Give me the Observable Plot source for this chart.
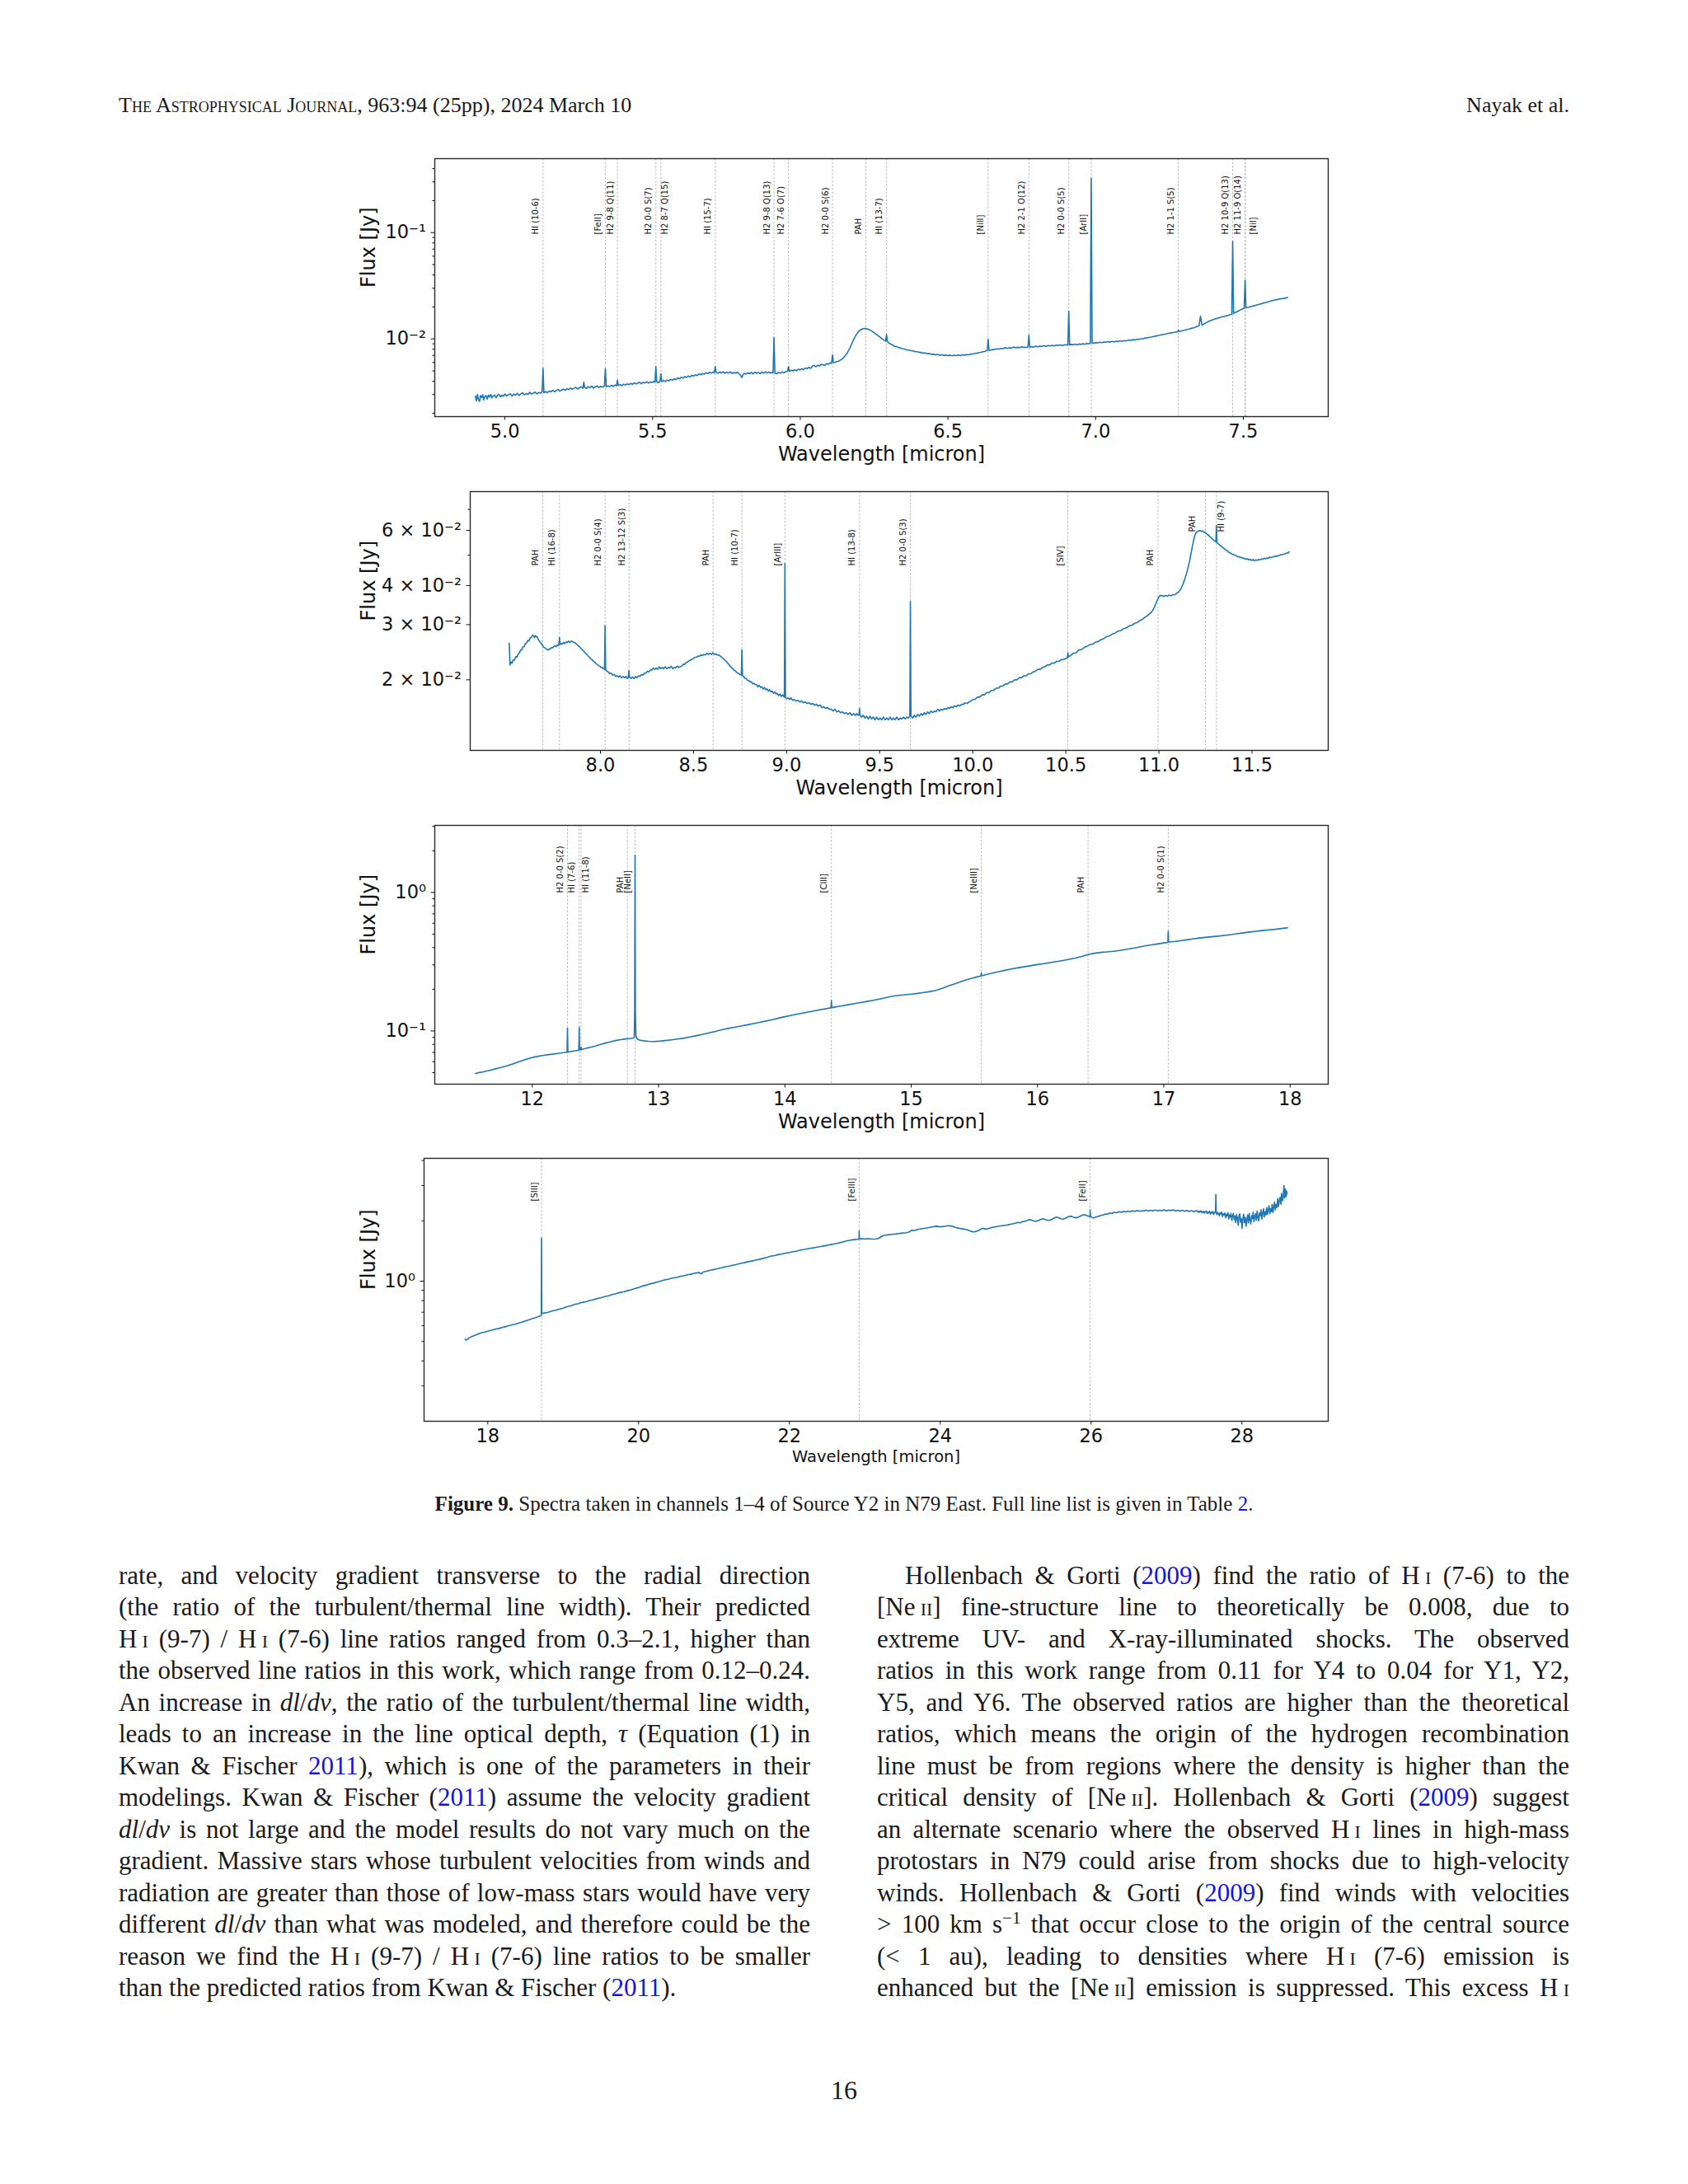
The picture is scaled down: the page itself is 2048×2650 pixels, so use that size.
<!DOCTYPE html>
<html><head><meta charset="utf-8">
<script src="https://cdn.jsdelivr.net/npm/d3@7"></script>
<script src="https://cdn.jsdelivr.net/npm/@observablehq/plot@0.6"></script>
<style>
html,body{margin:0;padding:0;background:#fff;}
#page{position:relative;width:2048px;height:2650px;overflow:hidden;background:#fff;font-family:'Liberation Serif','Times New Roman',serif;color:#1a1a1a;}
.abs{position:absolute;white-space:nowrap;}
.sc{font-variant:small-caps;}
.ln{position:absolute;white-space:nowrap;font-size:31px;line-height:38.5px;height:38.5px;}
.lk{color:#1414e6;}
sup{font-size:0.68em;vertical-align:0.5em;line-height:0;}
svg.panel{position:absolute;left:0;}
</style></head><body><div id="page"></div>
<script>
// ---------------- DATA ----------------
// Channel 1 spectrum: [wavelength micron, flux Jy]
const ch1 = [
[4.900,0.00290],[4.903,0.00262],[4.907,0.00300],[4.910,0.00271],[4.914,0.00258],[4.917,0.00293],[4.921,0.00281],[4.925,0.00299],[4.928,0.00266],[4.932,0.00287],[4.936,0.00293],[4.940,0.00272],[4.944,0.00296],[4.948,0.00284],[4.952,0.00301],[4.956,0.00279],[4.960,0.00290],[4.965,0.00297],[4.970,0.00280],[4.975,0.00294],[4.980,0.00300],[4.985,0.00286],[4.990,0.00296],[4.995,0.00289],[5.000,0.00303],[5.006,0.00291],[5.012,0.00299],[5.018,0.00305],[5.024,0.00290],[5.030,0.00302],[5.036,0.00296],[5.042,0.00308],[5.048,0.00293],[5.054,0.00304],[5.060,0.00311],[5.066,0.00298],[5.072,0.00306],[5.078,0.00301],[5.084,0.00314],[5.090,0.00303],[5.096,0.00309],[5.102,0.00316],[5.108,0.00304],[5.114,0.00313],[5.120,0.00309],[5.126,0.00317],[5.129,0.00530],[5.132,0.00312],[5.138,0.00320],[5.144,0.00312],[5.150,0.00323],[5.156,0.00318],[5.162,0.00329],[5.168,0.00319],[5.174,0.00327],[5.180,0.00334],[5.186,0.00322],[5.192,0.00331],[5.198,0.00337],[5.204,0.00328],[5.210,0.00340],[5.216,0.00333],[5.222,0.00345],[5.228,0.00336],[5.234,0.00343],[5.240,0.00350],[5.246,0.00338],[5.252,0.00347],[5.258,0.00355],[5.264,0.00343],[5.267,0.00392],[5.270,0.00350],[5.276,0.00342],[5.282,0.00356],[5.288,0.00348],[5.294,0.00359],[5.300,0.00345],[5.306,0.00355],[5.312,0.00361],[5.318,0.00349],[5.324,0.00358],[5.330,0.00352],[5.337,0.00362],[5.340,0.00525],[5.343,0.00354],[5.349,0.00362],[5.355,0.00357],[5.361,0.00366],[5.367,0.00358],[5.373,0.00369],[5.378,0.00362],[5.381,0.00410],[5.384,0.00366],[5.390,0.00372],[5.396,0.00363],[5.402,0.00375],[5.408,0.00369],[5.414,0.00378],[5.420,0.00371],[5.426,0.00382],[5.432,0.00374],[5.438,0.00386],[5.444,0.00377],[5.450,0.00384],[5.456,0.00391],[5.462,0.00379],[5.468,0.00390],[5.474,0.00385],[5.480,0.00396],[5.486,0.00384],[5.492,0.00394],[5.498,0.00389],[5.504,0.00399],[5.508,0.00390],[5.511,0.00550],[5.514,0.00396],[5.519,0.00388],[5.525,0.00398],[5.528,0.00470],[5.531,0.00397],[5.537,0.00407],[5.543,0.00398],[5.549,0.00410],[5.555,0.00403],[5.561,0.00416],[5.567,0.00409],[5.573,0.00422],[5.579,0.00414],[5.585,0.00430],[5.591,0.00421],[5.597,0.00435],[5.603,0.00428],[5.609,0.00442],[5.615,0.00434],[5.621,0.00448],[5.627,0.00439],[5.633,0.00455],[5.639,0.00447],[5.645,0.00459],[5.651,0.00452],[5.657,0.00468],[5.663,0.00460],[5.669,0.00472],[5.675,0.00466],[5.681,0.00481],[5.687,0.00472],[5.693,0.00485],[5.699,0.00476],[5.705,0.00488],[5.709,0.00480],[5.712,0.00550],[5.715,0.00484],[5.721,0.00476],[5.727,0.00489],[5.733,0.00479],[5.739,0.00491],[5.745,0.00475],[5.751,0.00486],[5.757,0.00478],[5.763,0.00490],[5.769,0.00472],[5.775,0.00484],[5.781,0.00476],[5.787,0.00487],[5.793,0.00468],[5.798,0.00455],[5.802,0.00432],[5.806,0.00460],[5.810,0.00474],[5.816,0.00466],[5.822,0.00481],[5.828,0.00470],[5.834,0.00484],[5.840,0.00468],[5.846,0.00486],[5.852,0.00474],[5.858,0.00483],[5.864,0.00471],[5.870,0.00488],[5.876,0.00476],[5.882,0.00490],[5.888,0.00478],[5.894,0.00487],[5.900,0.00476],[5.905,0.00484],[5.908,0.00481],[5.911,0.01030],[5.914,0.00478],[5.920,0.00470],[5.926,0.00484],[5.932,0.00476],[5.938,0.00489],[5.944,0.00480],[5.950,0.00492],[5.957,0.00496],[5.960,0.00550],[5.963,0.00494],[5.969,0.00508],[5.975,0.00500],[5.981,0.00512],[5.987,0.00502],[5.993,0.00519],[5.999,0.00512],[6.005,0.00524],[6.011,0.00514],[6.017,0.00532],[6.023,0.00525],[6.029,0.00540],[6.035,0.00529],[6.041,0.00555],[6.047,0.00562],[6.053,0.00548],[6.059,0.00566],[6.065,0.00556],[6.071,0.00578],[6.077,0.00570],[6.083,0.00562],[6.089,0.00584],[6.095,0.00578],[6.101,0.00594],[6.106,0.00592],[6.109,0.00707],[6.112,0.00600],[6.118,0.00603],[6.124,0.00612],[6.130,0.00618],[6.136,0.00632],[6.142,0.00648],[6.148,0.00672],[6.154,0.00706],[6.160,0.00745],[6.166,0.00800],[6.172,0.00870],[6.178,0.00950],[6.184,0.01030],[6.190,0.01100],[6.196,0.01160],[6.202,0.01205],[6.208,0.01232],[6.214,0.01250],[6.220,0.01256],[6.226,0.01244],[6.232,0.01228],[6.238,0.01204],[6.244,0.01176],[6.250,0.01146],[6.256,0.01112],[6.262,0.01080],[6.268,0.01046],[6.274,0.01016],[6.280,0.00988],[6.286,0.00966],[6.289,0.00955],[6.292,0.01100],[6.295,0.00940],[6.301,0.00912],[6.307,0.00890],[6.314,0.00870],[6.320,0.00852],[6.327,0.00846],[6.333,0.00828],[6.340,0.00820],[6.346,0.00808],[6.353,0.00803],[6.360,0.00790],[6.367,0.00786],[6.374,0.00775],[6.381,0.00772],[6.388,0.00760],[6.395,0.00757],[6.402,0.00749],[6.409,0.00746],[6.416,0.00736],[6.423,0.00738],[6.430,0.00726],[6.437,0.00728],[6.444,0.00716],[6.451,0.00720],[6.458,0.00709],[6.465,0.00714],[6.472,0.00702],[6.479,0.00710],[6.486,0.00698],[6.493,0.00707],[6.500,0.00695],[6.507,0.00704],[6.514,0.00694],[6.521,0.00703],[6.528,0.00696],[6.535,0.00705],[6.542,0.00697],[6.549,0.00708],[6.556,0.00704],[6.563,0.00713],[6.570,0.00708],[6.577,0.00720],[6.584,0.00721],[6.591,0.00731],[6.598,0.00733],[6.605,0.00744],[6.612,0.00748],[6.618,0.00759],[6.624,0.00762],[6.629,0.00772],[6.633,0.00778],[6.636,0.00990],[6.639,0.00780],[6.645,0.00786],[6.652,0.00794],[6.659,0.00797],[6.666,0.00806],[6.673,0.00802],[6.680,0.00814],[6.687,0.00810],[6.694,0.00828],[6.701,0.00815],[6.708,0.00826],[6.715,0.00820],[6.722,0.00838],[6.729,0.00825],[6.736,0.00834],[6.743,0.00828],[6.750,0.00845],[6.756,0.00831],[6.762,0.00836],[6.767,0.00830],[6.771,0.00842],[6.774,0.01080],[6.777,0.00838],[6.784,0.00846],[6.790,0.00840],[6.797,0.00853],[6.804,0.00843],[6.811,0.00856],[6.818,0.00852],[6.825,0.00862],[6.832,0.00852],[6.839,0.00866],[6.846,0.00860],[6.853,0.00872],[6.860,0.00860],[6.867,0.00874],[6.874,0.00868],[6.881,0.00880],[6.888,0.00866],[6.894,0.00878],[6.900,0.00883],[6.906,0.00873],[6.909,0.01820],[6.912,0.00878],[6.918,0.00888],[6.925,0.00882],[6.931,0.00893],[6.938,0.00879],[6.944,0.00896],[6.951,0.00889],[6.957,0.00900],[6.964,0.00891],[6.970,0.00906],[6.976,0.00901],[6.982,0.00908],[6.985,0.32500],[6.988,0.00915],[6.994,0.00912],[7.000,0.00924],[7.007,0.00918],[7.014,0.00930],[7.021,0.00922],[7.028,0.00936],[7.035,0.00930],[7.042,0.00942],[7.049,0.00933],[7.056,0.00948],[7.063,0.00940],[7.070,0.00953],[7.077,0.00946],[7.084,0.00960],[7.091,0.00952],[7.098,0.00966],[7.105,0.00960],[7.112,0.00976],[7.119,0.00970],[7.126,0.00984],[7.133,0.00978],[7.140,0.00994],[7.147,0.00990],[7.154,0.01004],[7.161,0.01004],[7.168,0.01020],[7.175,0.01022],[7.182,0.01036],[7.189,0.01040],[7.196,0.01056],[7.203,0.01062],[7.210,0.01074],[7.217,0.01082],[7.224,0.01096],[7.231,0.01104],[7.238,0.01114],[7.245,0.01126],[7.252,0.01136],[7.259,0.01144],[7.266,0.01152],[7.272,0.01160],[7.277,0.01164],[7.280,0.01210],[7.283,0.01172],[7.289,0.01186],[7.296,0.01200],[7.303,0.01210],[7.310,0.01226],[7.317,0.01240],[7.324,0.01258],[7.331,0.01272],[7.338,0.01290],[7.344,0.01310],[7.350,0.01330],[7.355,0.01640],[7.360,0.01350],[7.367,0.01386],[7.374,0.01420],[7.381,0.01452],[7.388,0.01482],[7.395,0.01508],[7.402,0.01534],[7.409,0.01556],[7.416,0.01578],[7.423,0.01598],[7.430,0.01618],[7.437,0.01636],[7.444,0.01652],[7.450,0.01670],[7.456,0.01690],[7.461,0.01708],[7.464,0.08260],[7.467,0.01740],[7.472,0.01770],[7.478,0.01802],[7.484,0.01836],[7.490,0.01872],[7.495,0.01902],[7.500,0.01926],[7.503,0.01940],[7.506,0.03570],[7.509,0.01962],[7.514,0.01976],[7.521,0.02000],[7.528,0.02022],[7.535,0.02046],[7.542,0.02070],[7.549,0.02096],[7.556,0.02124],[7.563,0.02150],[7.570,0.02180],[7.577,0.02206],[7.584,0.02234],[7.591,0.02262],[7.598,0.02290],[7.605,0.02314],[7.612,0.02340],[7.619,0.02362],[7.626,0.02382],[7.633,0.02398],[7.640,0.02414],[7.645,0.02436],[7.650,0.02450]
];
// Channel 2 spectrum
const ch2 = [
[7.510,0.0262],[7.514,0.0223],[7.520,0.0228],[7.525,0.0226],[7.532,0.0232],[7.538,0.0231],[7.545,0.0237],[7.551,0.0236],[7.558,0.0242],[7.564,0.0243],[7.571,0.0249],[7.577,0.0249],[7.584,0.0255],[7.590,0.0255],[7.597,0.0261],[7.603,0.0262],[7.610,0.0267],[7.616,0.0266],[7.623,0.0272],[7.629,0.0273],[7.635,0.0278],[7.640,0.0276],[7.645,0.0273],[7.650,0.0277],[7.655,0.0274],[7.660,0.0275],[7.666,0.0269],[7.672,0.0266],[7.678,0.0263],[7.684,0.0260],[7.690,0.0257],[7.696,0.0254],[7.702,0.0253],[7.708,0.0251],[7.714,0.0250],[7.720,0.0249],[7.726,0.0251],[7.732,0.0251],[7.738,0.0254],[7.744,0.0253],[7.750,0.0256],[7.756,0.0257],[7.762,0.0255],[7.768,0.0258],[7.774,0.0257],[7.777,0.0260],[7.780,0.0273],[7.783,0.0259],[7.789,0.0261],[7.795,0.0260],[7.802,0.0263],[7.808,0.0261],[7.815,0.0264],[7.822,0.0263],[7.829,0.0266],[7.836,0.0263],[7.843,0.0266],[7.850,0.0265],[7.857,0.0263],[7.864,0.0263],[7.871,0.0260],[7.878,0.0258],[7.885,0.0256],[7.892,0.0253],[7.899,0.0251],[7.906,0.0248],[7.913,0.0246],[7.920,0.0243],[7.927,0.0241],[7.934,0.0238],[7.941,0.0236],[7.948,0.0233],[7.955,0.0232],[7.962,0.0229],[7.969,0.0228],[7.976,0.0225],[7.983,0.0224],[7.990,0.0222],[7.997,0.0221],[8.004,0.0219],[8.010,0.0219],[8.016,0.0217],[8.022,0.0216],[8.025,0.0298],[8.028,0.0215],[8.035,0.0213],[8.042,0.0212],[8.050,0.0209],[8.058,0.0210],[8.066,0.0207],[8.074,0.0208],[8.082,0.0205],[8.090,0.0206],[8.098,0.0204],[8.106,0.0206],[8.114,0.0203],[8.122,0.0205],[8.130,0.0203],[8.138,0.0205],[8.145,0.0202],[8.150,0.0204],[8.153,0.0214],[8.156,0.0204],[8.164,0.0202],[8.172,0.0204],[8.180,0.0202],[8.188,0.0205],[8.196,0.0203],[8.204,0.0206],[8.212,0.0205],[8.220,0.0208],[8.228,0.0207],[8.236,0.0210],[8.244,0.0210],[8.252,0.0213],[8.260,0.0212],[8.268,0.0215],[8.276,0.0215],[8.284,0.0218],[8.292,0.0216],[8.300,0.0218],[8.308,0.0216],[8.316,0.0220],[8.324,0.0217],[8.332,0.0219],[8.340,0.0217],[8.348,0.0220],[8.356,0.0217],[8.364,0.0219],[8.372,0.0218],[8.380,0.0221],[8.388,0.0217],[8.396,0.0219],[8.404,0.0218],[8.412,0.0221],[8.420,0.0219],[8.428,0.0220],[8.436,0.0221],[8.444,0.0224],[8.452,0.0224],[8.460,0.0227],[8.468,0.0228],[8.476,0.0230],[8.484,0.0231],[8.492,0.0233],[8.500,0.0234],[8.508,0.0236],[8.516,0.0236],[8.524,0.0238],[8.532,0.0238],[8.540,0.0240],[8.548,0.0239],[8.556,0.0241],[8.564,0.0240],[8.572,0.0243],[8.580,0.0241],[8.588,0.0243],[8.596,0.0241],[8.604,0.0244],[8.612,0.0241],[8.620,0.0242],[8.628,0.0240],[8.636,0.0240],[8.644,0.0238],[8.652,0.0236],[8.660,0.0234],[8.668,0.0231],[8.676,0.0229],[8.684,0.0226],[8.692,0.0223],[8.700,0.0220],[8.708,0.0218],[8.716,0.0215],[8.724,0.0214],[8.732,0.0211],[8.740,0.0210],[8.748,0.0208],[8.754,0.0208],[8.757,0.0207],[8.760,0.0249],[8.763,0.0206],[8.770,0.0205],[8.776,0.0202],[8.783,0.0202],[8.790,0.0199],[8.797,0.0199],[8.804,0.0197],[8.811,0.0197],[8.818,0.0194],[8.825,0.0195],[8.832,0.0193],[8.839,0.0193],[8.846,0.0190],[8.853,0.0192],[8.860,0.0189],[8.867,0.0190],[8.874,0.0187],[8.881,0.0189],[8.888,0.0186],[8.895,0.0187],[8.902,0.0184],[8.909,0.0186],[8.916,0.0183],[8.923,0.0184],[8.930,0.0181],[8.937,0.0183],[8.944,0.0180],[8.951,0.0181],[8.958,0.0178],[8.965,0.0180],[8.972,0.0177],[8.979,0.0179],[8.985,0.0177],[8.988,0.0176],[8.991,0.0470],[8.994,0.0176],[9.001,0.0174],[9.008,0.0175],[9.016,0.0173],[9.024,0.0175],[9.032,0.0172],[9.040,0.0173],[9.050,0.0171],[9.060,0.0172],[9.070,0.0170],[9.080,0.0171],[9.090,0.0169],[9.100,0.0170],[9.110,0.0168],[9.120,0.0169],[9.130,0.0167],[9.140,0.0168],[9.150,0.0166],[9.160,0.0167],[9.170,0.0165],[9.180,0.0166],[9.190,0.0163],[9.200,0.0164],[9.210,0.0162],[9.220,0.0163],[9.230,0.0161],[9.240,0.0161],[9.250,0.0159],[9.260,0.0161],[9.270,0.0158],[9.280,0.0159],[9.290,0.0157],[9.300,0.0158],[9.310,0.0156],[9.320,0.0157],[9.330,0.0155],[9.340,0.0157],[9.350,0.0154],[9.360,0.0156],[9.370,0.0154],[9.378,0.0156],[9.384,0.0154],[9.389,0.0155],[9.392,0.0162],[9.395,0.0154],[9.403,0.0152],[9.412,0.0154],[9.421,0.0151],[9.430,0.0153],[9.439,0.0150],[9.448,0.0153],[9.457,0.0150],[9.466,0.0152],[9.475,0.0149],[9.484,0.0152],[9.493,0.0149],[9.502,0.0151],[9.511,0.0149],[9.520,0.0152],[9.529,0.0149],[9.538,0.0151],[9.547,0.0149],[9.556,0.0152],[9.565,0.0149],[9.574,0.0151],[9.583,0.0149],[9.592,0.0152],[9.601,0.0149],[9.610,0.0151],[9.619,0.0150],[9.628,0.0152],[9.637,0.0150],[9.646,0.0152],[9.654,0.0151],[9.662,0.0153],[9.665,0.0356],[9.668,0.0153],[9.677,0.0151],[9.686,0.0154],[9.695,0.0152],[9.704,0.0155],[9.713,0.0153],[9.722,0.0156],[9.731,0.0154],[9.740,0.0157],[9.749,0.0155],[9.758,0.0158],[9.767,0.0156],[9.776,0.0159],[9.785,0.0157],[9.794,0.0159],[9.803,0.0158],[9.812,0.0161],[9.821,0.0159],[9.830,0.0161],[9.839,0.0160],[9.848,0.0162],[9.857,0.0161],[9.866,0.0163],[9.875,0.0162],[9.884,0.0164],[9.893,0.0163],[9.902,0.0165],[9.911,0.0164],[9.920,0.0166],[9.930,0.0165],[9.940,0.0167],[9.950,0.0167],[9.960,0.0169],[9.970,0.0168],[9.980,0.0170],[9.990,0.0171],[10.000,0.0173],[10.012,0.0173],[10.025,0.0176],[10.037,0.0176],[10.050,0.0179],[10.062,0.0179],[10.075,0.0182],[10.087,0.0182],[10.100,0.0185],[10.112,0.0185],[10.125,0.0188],[10.137,0.0188],[10.150,0.0191],[10.162,0.0191],[10.175,0.0194],[10.187,0.0194],[10.200,0.0197],[10.212,0.0197],[10.225,0.0200],[10.237,0.0200],[10.250,0.0203],[10.262,0.0203],[10.275,0.0206],[10.287,0.0206],[10.300,0.0209],[10.312,0.0209],[10.325,0.0212],[10.337,0.0213],[10.350,0.0216],[10.362,0.0216],[10.375,0.0219],[10.387,0.0220],[10.400,0.0223],[10.412,0.0223],[10.425,0.0226],[10.437,0.0226],[10.450,0.0229],[10.462,0.0229],[10.475,0.0232],[10.487,0.0232],[10.500,0.0234],[10.508,0.0235],[10.511,0.0244],[10.514,0.0237],[10.525,0.0239],[10.540,0.0243],[10.555,0.0244],[10.570,0.0249],[10.585,0.0250],[10.600,0.0254],[10.615,0.0256],[10.630,0.0259],[10.645,0.0260],[10.660,0.0264],[10.675,0.0265],[10.690,0.0269],[10.705,0.0271],[10.720,0.0275],[10.735,0.0276],[10.750,0.0280],[10.765,0.0282],[10.780,0.0286],[10.795,0.0287],[10.810,0.0291],[10.825,0.0293],[10.840,0.0297],[10.855,0.0299],[10.870,0.0303],[10.885,0.0305],[10.900,0.0310],[10.912,0.0312],[10.925,0.0317],[10.937,0.0320],[10.950,0.0325],[10.960,0.0329],[10.970,0.0336],[10.978,0.0343],[10.985,0.0352],[10.992,0.0360],[10.998,0.0367],[11.005,0.0371],[11.015,0.0372],[11.025,0.0369],[11.035,0.0372],[11.045,0.0370],[11.055,0.0373],[11.065,0.0371],[11.075,0.0374],[11.085,0.0374],[11.095,0.0378],[11.105,0.0381],[11.113,0.0386],[11.120,0.0393],[11.128,0.0402],[11.135,0.0413],[11.142,0.0425],[11.150,0.0441],[11.158,0.0460],[11.165,0.0480],[11.172,0.0505],[11.180,0.0535],[11.186,0.0556],[11.192,0.0576],[11.198,0.0588],[11.205,0.0595],[11.212,0.0597],[11.220,0.0599],[11.228,0.0596],[11.235,0.0597],[11.243,0.0592],[11.250,0.0590],[11.258,0.0584],[11.265,0.0580],[11.273,0.0574],[11.280,0.0569],[11.288,0.0563],[11.295,0.0558],[11.300,0.0555],[11.306,0.0552],[11.309,0.0622],[11.312,0.0548],[11.318,0.0544],[11.325,0.0540],[11.332,0.0535],[11.340,0.0532],[11.347,0.0526],[11.355,0.0523],[11.362,0.0518],[11.370,0.0515],[11.377,0.0510],[11.385,0.0508],[11.392,0.0504],[11.400,0.0503],[11.408,0.0499],[11.415,0.0499],[11.423,0.0494],[11.430,0.0495],[11.438,0.0491],[11.445,0.0492],[11.453,0.0488],[11.460,0.0489],[11.468,0.0485],[11.475,0.0487],[11.483,0.0483],[11.490,0.0485],[11.498,0.0481],[11.505,0.0484],[11.513,0.0480],[11.520,0.0483],[11.528,0.0481],[11.535,0.0485],[11.543,0.0483],[11.550,0.0486],[11.558,0.0485],[11.565,0.0489],[11.573,0.0487],[11.580,0.0490],[11.588,0.0489],[11.595,0.0493],[11.603,0.0491],[11.610,0.0494],[11.618,0.0494],[11.625,0.0497],[11.633,0.0496],[11.640,0.0499],[11.648,0.0499],[11.655,0.0502],[11.663,0.0502],[11.670,0.0504],[11.678,0.0505],[11.685,0.0508],[11.693,0.0508],[11.700,0.0512]
];
// Channel 3 spectrum
const ch3 = [
[11.55,0.0494],[11.57,0.0498],[11.59,0.0503],[11.61,0.0506],[11.63,0.0512],[11.65,0.0516],[11.67,0.0521],[11.69,0.0527],[11.71,0.0533],[11.73,0.0539],[11.75,0.0545],[11.77,0.0551],[11.79,0.0557],[11.81,0.0564],[11.83,0.0571],[11.85,0.0579],[11.87,0.0588],[11.89,0.0597],[11.91,0.0606],[11.93,0.0615],[11.95,0.0624],[11.97,0.0632],[11.99,0.0640],[12.01,0.0646],[12.04,0.0655],[12.07,0.0662],[12.10,0.0669],[12.13,0.0675],[12.16,0.0680],[12.19,0.0686],[12.22,0.0692],[12.25,0.0697],[12.276,0.0703],[12.279,0.1047],[12.282,0.0705],[12.31,0.0712],[12.34,0.0720],[12.369,0.0727],[12.372,0.1060],[12.375,0.0730],[12.384,0.0733],[12.387,0.0765],[12.390,0.0735],[12.42,0.0746],[12.46,0.0763],[12.50,0.0779],[12.54,0.0799],[12.58,0.0818],[12.62,0.0836],[12.66,0.0852],[12.70,0.0866],[12.74,0.0876],[12.78,0.0884],[12.800,0.0889],[12.808,0.0905],[12.811,0.1400],[12.814,1.8600],[12.817,0.1300],[12.821,0.0920],[12.830,0.0878],[12.85,0.0860],[12.88,0.0849],[12.92,0.0842],[12.96,0.0840],[13.00,0.0843],[13.05,0.0852],[13.10,0.0862],[13.15,0.0874],[13.20,0.0888],[13.25,0.0905],[13.30,0.0925],[13.35,0.0946],[13.40,0.0970],[13.45,0.0993],[13.50,0.1020],[13.55,0.1043],[13.60,0.1064],[13.65,0.1085],[13.70,0.1106],[13.75,0.1130],[13.80,0.1155],[13.85,0.1180],[13.90,0.1208],[13.95,0.1238],[14.00,0.1268],[14.05,0.1295],[14.10,0.1322],[14.15,0.1350],[14.20,0.1380],[14.25,0.1408],[14.30,0.1435],[14.340,0.1458],[14.365,0.1470],[14.368,0.1660],[14.371,0.1475],[14.40,0.1490],[14.45,0.1518],[14.50,0.1546],[14.55,0.1576],[14.60,0.1604],[14.65,0.1634],[14.70,0.1665],[14.75,0.1700],[14.80,0.1740],[14.85,0.1782],[14.90,0.1808],[14.95,0.1825],[15.00,0.1845],[15.05,0.1868],[15.10,0.1895],[15.15,0.1925],[15.20,0.1968],[15.25,0.2040],[15.30,0.2120],[15.35,0.2200],[15.40,0.2280],[15.45,0.2360],[15.50,0.2430],[15.552,0.2495],[15.555,0.2620],[15.558,0.2505],[15.60,0.2560],[15.65,0.2625],[15.70,0.2690],[15.75,0.2750],[15.80,0.2810],[15.85,0.2865],[15.90,0.2915],[15.95,0.2965],[16.00,0.3015],[16.05,0.3065],[16.10,0.3115],[16.15,0.3170],[16.20,0.3225],[16.25,0.3290],[16.30,0.3360],[16.35,0.3450],[16.40,0.3560],[16.45,0.3640],[16.50,0.3690],[16.55,0.3720],[16.60,0.3760],[16.65,0.3810],[16.70,0.3880],[16.75,0.3950],[16.80,0.4030],[16.85,0.4110],[16.90,0.4180],[16.95,0.4250],[17.00,0.4320],[17.032,0.4360],[17.035,0.5250],[17.038,0.4385],[17.08,0.4420],[17.13,0.4480],[17.18,0.4550],[17.23,0.4620],[17.28,0.4690],[17.33,0.4740],[17.38,0.4790],[17.43,0.4840],[17.48,0.4900],[17.53,0.4960],[17.58,0.5030],[17.63,0.5110],[17.68,0.5180],[17.73,0.5250],[17.78,0.5310],[17.83,0.5370],[17.88,0.5420],[17.93,0.5490],[17.96,0.5530],[17.98,0.5560]
];
// Channel 4 spectrum
const ch4 = [
[17.70,0.513],[17.72,0.508],[17.75,0.521],[17.80,0.532],[17.85,0.540],[17.90,0.551],[17.95,0.556],[18.00,0.563],[18.05,0.569],[18.10,0.576],[18.15,0.581],[18.20,0.589],[18.25,0.595],[18.30,0.603],[18.35,0.608],[18.40,0.616],[18.45,0.624],[18.50,0.634],[18.55,0.642],[18.60,0.652],[18.65,0.661],[18.70,0.672],[18.710,0.676],[18.713,1.640],[18.716,0.690],[18.75,0.694],[18.80,0.700],[18.85,0.709],[18.90,0.716],[18.95,0.725],[19.00,0.734],[19.05,0.746],[19.10,0.753],[19.15,0.766],[19.20,0.773],[19.25,0.783],[19.30,0.790],[19.35,0.801],[19.40,0.809],[19.45,0.819],[19.50,0.826],[19.55,0.837],[19.60,0.846],[19.65,0.858],[19.70,0.866],[19.75,0.877],[19.80,0.885],[19.85,0.896],[19.90,0.906],[19.95,0.919],[20.00,0.930],[20.05,0.946],[20.10,0.955],[20.15,0.969],[20.20,0.978],[20.25,0.991],[20.30,1.003],[20.35,1.016],[20.40,1.024],[20.45,1.036],[20.50,1.044],[20.55,1.056],[20.60,1.064],[20.65,1.076],[20.70,1.085],[20.75,1.096],[20.80,1.104],[20.83,1.088],[20.86,1.113],[20.90,1.121],[20.95,1.133],[21.00,1.143],[21.05,1.156],[21.10,1.166],[21.15,1.181],[21.20,1.189],[21.25,1.201],[21.30,1.212],[21.35,1.226],[21.40,1.236],[21.45,1.251],[21.50,1.260],[21.55,1.273],[21.60,1.284],[21.65,1.299],[21.70,1.314],[21.75,1.331],[21.80,1.341],[21.85,1.356],[21.90,1.366],[21.95,1.381],[22.00,1.390],[22.05,1.403],[22.10,1.414],[22.15,1.429],[22.20,1.439],[22.25,1.453],[22.30,1.462],[22.35,1.475],[22.40,1.485],[22.45,1.497],[22.50,1.508],[22.55,1.523],[22.60,1.535],[22.65,1.551],[22.70,1.566],[22.75,1.586],[22.80,1.598],[22.85,1.611],[22.922,1.620],[22.925,1.780],[22.928,1.630],[23.00,1.624],[23.05,1.628],[23.10,1.621],[23.15,1.625],[23.18,1.632],[23.22,1.668],[23.25,1.692],[23.30,1.701],[23.35,1.712],[23.40,1.718],[23.45,1.728],[23.50,1.738],[23.55,1.745],[23.59,1.760],[23.62,1.795],[23.66,1.790],[23.70,1.812],[23.75,1.826],[23.80,1.838],[23.85,1.852],[23.90,1.868],[23.95,1.880],[24.00,1.866],[24.05,1.878],[24.10,1.890],[24.15,1.884],[24.20,1.856],[24.25,1.836],[24.30,1.822],[24.35,1.808],[24.40,1.776],[24.44,1.760],[24.48,1.772],[24.52,1.800],[24.56,1.836],[24.60,1.818],[24.64,1.828],[24.68,1.852],[24.72,1.862],[24.76,1.876],[24.80,1.886],[24.84,1.896],[24.88,1.904],[24.92,1.920],[24.96,1.932],[25.00,1.950],[25.03,1.962],[25.06,1.955],[25.09,1.982],[25.12,1.990],[25.15,2.006],[25.18,2.028],[25.21,2.020],[25.24,1.998],[25.27,1.990],[25.30,2.006],[25.33,2.030],[25.36,2.048],[25.39,2.034],[25.42,2.012],[25.45,2.010],[25.48,2.034],[25.51,2.066],[25.54,2.088],[25.57,2.072],[25.60,2.048],[25.63,2.040],[25.66,2.058],[25.69,2.090],[25.72,2.110],[25.75,2.100],[25.78,2.076],[25.81,2.072],[25.84,2.094],[25.87,2.124],[25.90,2.146],[25.93,2.132],[25.96,2.112],[25.985,2.098],[25.988,2.270],[25.991,2.120],[26.01,2.080],[26.04,2.070],[26.07,2.094],[26.10,2.108],[26.13,2.130],[26.16,2.140],[26.19,2.164],[26.22,2.158],[26.25,2.188],[26.28,2.180],[26.31,2.205],[26.34,2.196],[26.37,2.220],[26.40,2.206],[26.43,2.232],[26.46,2.214],[26.49,2.238],[26.52,2.222],[26.55,2.246],[26.58,2.228],[26.61,2.252],[26.64,2.230],[26.67,2.248],[26.70,2.236],[26.73,2.262],[26.76,2.238],[26.79,2.256],[26.82,2.240],[26.85,2.266],[26.88,2.242],[26.91,2.258],[26.94,2.246],[26.97,2.270],[27.00,2.244],[27.03,2.262],[27.06,2.250],[27.09,2.268],[27.12,2.240],[27.15,2.260],[27.18,2.236],[27.21,2.258],[27.24,2.230],[27.27,2.254],[27.30,2.226],[27.33,2.250],[27.36,2.220],[27.39,2.246],
[27.400,2.242],[27.409,2.226],[27.418,2.238],[27.430,2.204],[27.437,2.232],[27.450,2.222],[27.458,2.246],[27.470,2.196],[27.481,2.210],[27.488,2.232],[27.500,2.186],[27.512,2.226],[27.519,2.214],[27.531,2.236],[27.540,2.176],[27.552,2.206],[27.561,2.194],[27.570,2.230],[27.583,2.160],[27.594,2.214],[27.603,2.190],[27.615,2.226],[27.624,2.150],[27.636,2.196],[27.645,2.210],[27.650,2.200],[27.655,2.700],[27.660,2.190],[27.670,2.150],[27.679,2.206],[27.688,2.176],[27.701,2.120],[27.710,2.196],[27.722,2.160],[27.731,2.214],[27.742,2.100],[27.751,2.170],[27.764,2.136],[27.772,2.190],[27.786,2.070],[27.795,2.156],[27.803,2.120],[27.815,2.196],[27.826,2.040],[27.834,2.140],[27.846,2.090],[27.855,2.176],[27.867,2.010],[27.876,2.120],[27.888,2.180],[27.897,2.030],[27.909,2.110],[27.918,1.960],[27.930,2.150],[27.939,2.070],[27.951,1.900],[27.960,2.100],[27.972,2.170],[27.981,1.970],[27.993,2.060],[28.002,1.830],[28.014,2.040],[28.023,2.160],[28.035,1.960],[28.044,2.080],[28.056,1.880],[28.065,2.020],[28.077,2.140],[28.086,1.950],[28.098,2.180],[28.107,2.020],[28.119,1.930],[28.128,2.120],[28.140,2.050],[28.149,2.210],[28.161,1.980],[28.170,2.100],[28.182,2.170],[28.191,2.010],[28.203,2.240],[28.212,2.080],[28.224,2.000],[28.233,2.190],[28.245,2.120],[28.254,2.270],[28.266,2.040],[28.275,2.180],[28.287,2.300],[28.296,2.090],[28.308,2.220],[28.317,2.140],[28.329,2.330],[28.338,2.150],[28.350,2.260],[28.359,2.380],[28.371,2.170],[28.380,2.300],[28.392,2.220],[28.401,2.420],[28.413,2.200],[28.422,2.350],[28.434,2.480],[28.443,2.270],[28.455,2.410],[28.464,2.330],[28.476,2.580],[28.485,2.360],[28.497,2.520],[28.506,2.620],[28.518,2.420],[28.527,2.740],[28.539,2.520],[28.548,2.640],[28.558,3.000],[28.567,2.600],[28.578,2.880],[28.588,2.640],[28.596,2.800],[28.600,2.740]
];

// Line identifications: [wavelength, label]
const lines1 = [[5.129,"HI (10-6)"],[5.340,"[FeII]"],[5.381,"H2 9-8 Q(11)"],[5.511,"H2 0-0 S(7)"],[5.528,"H2 8-7 Q(15)"],[5.712,"HI (15-7)"],[5.911,"H2 9-8 Q(13)"],[5.960,"H2 7-6 O(7)"],[6.109,"H2 0-0 S(6)"],[6.222,"PAH"],[6.292,"HI (13-7)"],[6.636,"[NiII]"],[6.774,"H2 2-1 O(12)"],[6.909,"H2 0-0 S(5)"],[6.985,"[ArII]"],[7.280,"H2 1-1 S(5)"],[7.464,"H2 10-9 Q(13)"],[7.506,"H2 11-9 O(14)"],[7.507,"[NiI]"]];
const lines2 = [[7.690,"PAH"],[7.780,"HI (16-8)"],[8.025,"H2 0-0 S(4)"],[8.154,"H2 13-12 S(3)"],[8.605,"PAH"],[8.760,"HI (10-7)"],[8.991,"[ArIII]"],[9.392,"HI (13-8)"],[9.665,"H2 0-0 S(3)"],[10.511,"[SIV]"],[10.995,"PAH"],[11.250,"PAH"],[11.309,"HI (9-7)"]];
const lines3 = [[12.279,"H2 0-0 S(2)"],[12.372,"HI (7-6)"],[12.387,"HI (11-8)"],[12.753,"PAH"],[12.814,"[NeII]"],[14.368,"[ClII]"],[15.555,"[NeIII]"],[16.400,"PAH"],[17.035,"H2 0-0 S(1)"]];
const lines4 = [[18.713,"[SIII]"],[22.925,"[FeIII]"],[25.988,"[FeII]"]];

// Tick values
const xt1 = [5.0,5.5,6.0,6.5,7.0,7.5];
const xt2 = [8.0,8.5,9.0,9.5,10.0,10.5,11.0,11.5];
const xt3 = [12,13,14,15,16,17,18];
const xt4 = [18,20,22,24,26,28];
const ymaj1 = [0.01,0.1], ylab1 = ["10⁻²","10⁻¹"];
const ymin1 = [0.002,0.003,0.004,0.005,0.006,0.007,0.008,0.009,0.02,0.03,0.04,0.05,0.06,0.07,0.08,0.09,0.2,0.3,0.4];
const ymaj2 = [0.02,0.03,0.04,0.06], ylab2 = ["2 × 10⁻²","3 × 10⁻²","4 × 10⁻²","6 × 10⁻²"];
const ymin2 = [0.05,0.07];
const ymaj3 = [0.1,1], ylab3 = ["10⁻¹","10⁰"];
const ymin3 = [0.05,0.06,0.07,0.08,0.09,0.2,0.3,0.4,0.5,0.6,0.7,0.8,0.9,2,3];
const ymaj4 = [1], ylab4 = ["10⁰"];
const ymin4 = [0.3,0.4,0.5,0.6,0.7,0.8,0.9,2,3,4];

// ---------------- DRAWING ----------------
const page = document.getElementById("page");
const FONT = "'DejaVu Sans', sans-serif";

function panel(o) {
  const mt = 10, mb = 75;
  const spec = o.spec.map(([w, f]) => ({w, f}));
  const ll = o.lines.map(([w, name], i) => ({w, name, i}));
  const alt = new Set(o.altIdx || []);
  const nudge = o.nudge || {};
  const labelMarks = ll.map(d => Plot.text([d], {
    x: "w", text: "name", frameAnchor: "top",
    dy: alt.has(d.i) ? o.altDy : o.labelDy,
    dx: -5.5 + (nudge[d.i] || 0),
    rotate: -90, textAnchor: "start", lineAnchor: "bottom",
    fontSize: 10, fill: "#111"
  }));
  const fmtMaj = v => o.ylab[o.ymaj.indexOf(v)];
  const svg = Plot.plot({
    width: 2048, height: (o.B - o.T) + mt + mb,
    marginLeft: o.L, marginRight: 2048 - o.R, marginTop: mt, marginBottom: mb,
    style: {fontFamily: FONT, fontSize: "22.5px", background: "transparent", color: "#111", overflow: "visible"},
    x: {domain: o.xdom},
    y: {type: "log", domain: o.ydom},
    marks: [
      Plot.ruleX(ll, {x: "w", stroke: "#b9b9b9", strokeWidth: 1, strokeDasharray: "2.5,2"}),
      Plot.line(spec, {x: "w", y: "f", stroke: "#1f77b4", strokeWidth: 1.6}),
      ...labelMarks,
      Plot.frame({stroke: "#2a2a2a", strokeWidth: 1.4}),
      Plot.axisX({ticks: o.xt, tickSize: 4.5, tickPadding: 5.5, fontSize: 22.5, tickFormat: o.xfmt, label: null}),
      Plot.axisY({ticks: o.ymaj, tickSize: 4.5, tickPadding: 6, fontSize: 22.5, tickFormat: fmtMaj, label: null}),
      Plot.axisY({ticks: o.ymin, tickSize: 2.6, tickFormat: () => "", label: null}),
      Plot.text(["Wavelength [micron]"], {frameAnchor: "bottom", lineAnchor: "middle", dy: o.xlabDy, fontSize: o.xlabSize, fill: "#111"}),
      Plot.text(["Flux [Jy]"], {frameAnchor: "left", lineAnchor: "middle", dx: 447 - o.L, rotate: -90, fontSize: 24, fill: "#111"})
    ]
  });
  svg.classList.add("panel");
  svg.style.top = (o.T - mt) + "px";
  page.appendChild(svg);
}

const f1 = d3.format(".1f"), f0 = d3.format("d");
panel({spec: ch1, lines: lines1, L: 527, R: 1611, T: 192, B: 505, xdom: [4.7625, 7.7875], ydom: [0.001858, 0.4966],
  xt: xt1, xfmt: f1, ymaj: ymaj1, ylab: ylab1, ymin: ymin1, labelDy: 92, xlabDy: 46, xlabSize: 24,
  nudge: {4: 14, 18: 19}});
panel({spec: ch2, lines: lines2, L: 570, R: 1611, T: 596, B: 910, xdom: [7.3005, 11.9095], ydom: [0.0119, 0.0798],
  xt: xt2, xfmt: f1, ymaj: ymaj2, ylab: ylab2, ymin: ymin2, labelDy: 90, altIdx: [11, 12], altDy: 49, xlabDy: 46, xlabSize: 24,
  nudge: {11: -7, 12: 15}});
panel({spec: ch3, lines: lines3, L: 527, R: 1611, T: 1001, B: 1315, xdom: [11.2285, 18.3015], ydom: [0.0413, 3.05],
  xt: xt3, xfmt: f0, ymaj: ymaj3, ylab: ylab3, ymin: ymin3, labelDy: 82, xlabDy: 46, xlabSize: 24,
  nudge: {2: 14}});
panel({spec: ch4, lines: lines4, L: 514, R: 1611, T: 1405, B: 1724, xdom: [17.155, 29.145], ydom: [0.2, 4.1],
  xt: xt4, xfmt: f0, ymaj: ymaj4, ylab: ylab4, ymin: ymin4, labelDy: 52, xlabDy: 43, xlabSize: 19.5});

// ---------------- PAGE TEXT ----------------
function absText(html, css) {
  const d = document.createElement("div");
  d.className = "abs";
  d.innerHTML = html;
  Object.assign(d.style, css);
  page.appendChild(d);
  return d;
}
absText('<span class="sc">The Astrophysical Journal</span>, 963:94 (25pp), 2024 March 10',
  {left: "144px", top: "115px", fontSize: "26px", lineHeight: "26px"});
const na = absText('Nayak et al.', {top: "115px", fontSize: "26px", lineHeight: "26px"});
na.style.left = (1904 - na.getBoundingClientRect().width) + "px";

const cap = absText('<b>Figure 9.</b> Spectra taken in channels 1–4 of Source Y2 in N79 East. Full line list is given in Table <span class="lk">2</span>.',
  {top: "1812px", fontSize: "25px", lineHeight: "25px"});
cap.style.left = (1024 - cap.getBoundingClientRect().width / 2) + "px";

const pn = absText('16', {top: "2520px", fontSize: "32px", lineHeight: "32px"});
pn.style.left = (1024 - pn.getBoundingClientRect().width / 2) + "px";

const HI = 'H&#8201;<span class="sc">i</span>';
const NeII = 'Ne&#8201;<span class="sc">ii</span>';
const DLDV = '<i>dl</i>/<i>dv</i>';
const leftLines = [
  'rate, and velocity gradient transverse to the radial direction',
  '(the ratio of the turbulent/thermal line width). Their predicted',
  `${HI} (9-7) / ${HI} (7-6) line ratios ranged from 0.3–2.1, higher than`,
  'the observed line ratios in this work, which range from 0.12–0.24.',
  `An increase in ${DLDV}, the ratio of the turbulent/thermal line width,`,
  'leads to an increase in the line optical depth, <i>τ</i> (Equation (1) in',
  'Kwan &amp; Fischer <span class="lk">2011</span>), which is one of the parameters in their',
  'modelings. Kwan &amp; Fischer (<span class="lk">2011</span>) assume the velocity gradient',
  `${DLDV} is not large and the model results do not vary much on the`,
  'gradient. Massive stars whose turbulent velocities from winds and',
  'radiation are greater than those of low-mass stars would have very',
  `different ${DLDV} than what was modeled, and therefore could be the`,
  `reason we find the ${HI} (9-7) / ${HI} (7-6) line ratios to be smaller`,
  'than the predicted ratios from Kwan &amp; Fischer (<span class="lk">2011</span>).'
];
const rightLines = [
  `Hollenbach &amp; Gorti (<span class="lk">2009</span>) find the ratio of ${HI} (7-6) to the`,
  `[${NeII}] fine-structure line to theoretically be 0.008, due to`,
  'extreme UV- and X-ray-illuminated shocks. The observed',
  'ratios in this work range from 0.11 for Y4 to 0.04 for Y1, Y2,',
  'Y5, and Y6. The observed ratios are higher than the theoretical',
  'ratios, which means the origin of the hydrogen recombination',
  'line must be from regions where the density is higher than the',
  `critical density of [${NeII}]. Hollenbach &amp; Gorti (<span class="lk">2009</span>) suggest`,
  `an alternate scenario where the observed ${HI} lines in high-mass`,
  'protostars in N79 could arise from shocks due to high-velocity',
  'winds. Hollenbach &amp; Gorti (<span class="lk">2009</span>) find winds with velocities',
  '&gt; 100 km s<sup>−1</sup> that occur close to the origin of the central source',
  `(&lt; 1 au), leading to densities where ${HI} (7-6) emission is`,
  `enhanced but the [${NeII}] emission is suppressed. This excess ${HI}`
];
function addLine(html, left, top, width, justify) {
  const d = document.createElement("div");
  d.className = "ln";
  d.style.left = left + "px";
  d.style.top = top + "px";
  d.innerHTML = "<span>" + html + "</span>";
  page.appendChild(d);
  if (justify) {
    const sp = d.firstChild;
    const w = sp.getBoundingClientRect().width;
    const n = (sp.textContent.match(/ /g) || []).length;
    if (n > 0) sp.style.wordSpacing = ((width - w) / n) + "px";
  }
}
const top0 = 1893, lh = 38.47;
leftLines.forEach((h, i) => addLine(h, 144, top0 + i * lh, 839, i < leftLines.length - 1));
rightLines.forEach((h, i) => {
  const ind = i === 0 ? 34 : 0;
  addLine(h, 1064 + ind, top0 + i * lh, 840 - ind, true);
});
</script></body></html>
